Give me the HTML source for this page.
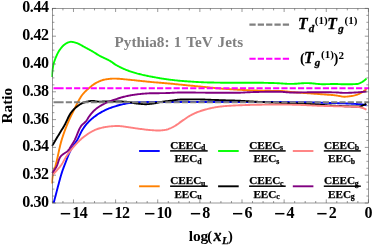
<!DOCTYPE html>
<html><head><meta charset="utf-8"><title>plot</title>
<style>html,body{margin:0;padding:0;background:#fff;}body{width:374px;height:247px;overflow:hidden;font-family:"Liberation Serif",serif;}</style></head>
<body>
<svg width="374" height="247" viewBox="0 0 374 247" style="display:block;will-change:transform">
<rect width="374" height="247" fill="#fff"/>
<clipPath id="c"><rect x="51.4" y="8.4" width="318.4" height="195.4"/></clipPath>
<g clip-path="url(#c)" fill="none" stroke-linejoin="round" stroke-linecap="butt">
<path d="M53.60,203.10 L53.84,202.20 L54.09,201.30 L54.33,200.40 L54.57,199.50 L54.81,198.59 L55.05,197.69 L55.29,196.79 L55.53,195.89 L55.77,194.99 L56.00,194.08 L56.23,193.18 L56.47,192.28 L56.70,191.37 L56.93,190.47 L57.16,189.57 L57.40,188.66 L57.63,187.76 L57.87,186.86 L58.11,185.96 L58.35,185.06 L58.60,184.15 L58.84,183.25 L59.08,182.35 L59.32,181.45 L59.56,180.55 L59.81,179.64 L60.05,178.74 L60.30,177.84 L60.55,176.94 L60.81,176.05 L61.07,175.15 L61.34,174.26 L61.61,173.37 L61.89,172.48 L62.17,171.59 L62.46,170.71 L62.77,169.83 L63.09,168.95 L63.42,168.07 L63.75,167.20 L64.08,166.33 L64.42,165.46 L64.76,164.59 L65.09,163.72 L65.43,162.84 L65.76,161.97 L66.09,161.09 L66.42,160.21 L66.75,159.33 L67.09,158.46 L67.43,157.58 L67.77,156.71 L68.12,155.84 L68.48,154.98 L68.84,154.12 L69.21,153.26 L69.59,152.41 L69.98,151.57 L70.38,150.73 L70.79,149.91 L71.21,149.09 L71.66,148.28 L72.14,147.49 L72.65,146.71 L73.17,145.94 L73.71,145.17 L74.25,144.40 L74.80,143.64 L75.34,142.87 L75.87,142.10 L76.39,141.32 L76.88,140.53 L77.36,139.73 L77.81,138.91 L78.24,138.08 L78.66,137.25 L79.07,136.40 L79.48,135.55 L79.88,134.71 L80.28,133.86 L80.69,133.02 L81.11,132.18 L81.54,131.36 L81.99,130.54 L82.46,129.75 L82.95,128.97 L83.46,128.20 L83.99,127.43 L84.54,126.67 L85.10,125.92 L85.68,125.17 L86.28,124.44 L86.88,123.72 L87.50,123.01 L88.13,122.32 L88.76,121.65 L89.41,120.99 L90.07,120.35 L90.75,119.72 L91.45,119.10 L92.16,118.49 L92.89,117.90 L93.63,117.31 L94.38,116.74 L95.13,116.18 L95.89,115.64 L96.66,115.10 L97.43,114.58 L98.20,114.07 L98.99,113.57 L99.78,113.08 L100.59,112.60 L101.40,112.13 L102.22,111.67 L103.04,111.23 L103.87,110.79 L104.71,110.38 L105.54,109.98 L106.39,109.59 L107.24,109.22 L108.10,108.85 L108.96,108.49 L109.83,108.15 L110.71,107.81 L111.59,107.49 L112.47,107.18 L113.35,106.88 L114.24,106.59 L115.12,106.31 L116.01,106.04 L116.91,105.77 L117.81,105.51 L118.71,105.25 L119.61,105.01 L120.52,104.78 L121.42,104.56 L122.33,104.35 L123.24,104.15 L124.15,103.95 L125.07,103.76 L125.98,103.58 L126.90,103.40 L127.82,103.24 L128.75,103.09 L129.67,102.95 L130.59,102.84 L131.52,102.75 L132.45,102.66 L133.37,102.58 L134.30,102.51 L135.24,102.44 L136.17,102.37 L137.10,102.32 L138.03,102.27 L138.97,102.23 L139.90,102.20 L140.83,102.18 L141.76,102.16 L142.70,102.14 L143.63,102.12 L144.56,102.10 L145.49,102.09 L146.43,102.07 L147.36,102.06 L148.29,102.05 L149.23,102.03 L150.16,102.02 L151.09,102.02 L152.03,102.01 L152.96,102.00 L153.89,102.00 L154.83,102.00 L155.76,102.00 L156.69,102.00 L157.63,102.00 L158.56,102.00 L159.49,102.00 L160.42,102.00 L161.36,102.00 L162.29,102.00 L163.22,102.00 L164.16,102.00 L165.09,102.00 L166.02,102.00 L166.96,102.00 L167.89,102.00 L168.82,102.00 L169.75,102.00 L170.69,102.00 L171.62,102.00 L172.55,102.00 L173.49,102.00 L174.42,102.00 L175.35,102.00 L176.29,102.00 L177.22,102.00 L178.15,102.00 L179.08,102.00 L180.02,102.00 L180.95,102.00 L181.88,102.00 L182.82,102.00 L183.75,102.00 L184.68,102.00 L185.62,102.00 L186.55,102.00 L187.48,102.00 L188.41,102.00 L189.35,102.00 L190.28,102.00 L191.21,102.00 L192.15,102.00 L193.08,102.00 L194.01,102.00 L194.95,102.00 L195.88,102.00 L196.81,102.00 L197.75,102.00 L198.68,102.00 L199.61,102.00 L200.54,102.00 L201.48,102.00 L202.41,102.00 L203.34,102.00 L204.28,102.00 L205.21,102.00 L206.14,102.00 L207.08,102.00 L208.01,102.00 L208.94,102.00 L209.87,102.00 L210.81,102.00 L211.74,102.00 L212.67,102.00 L213.61,102.00 L214.54,102.00 L215.47,102.00 L216.41,102.00 L217.34,102.00 L218.27,102.00 L219.20,102.00 L220.14,102.00 L221.07,102.00 L222.00,102.00 L222.94,102.00 L223.87,102.00 L224.80,102.00 L225.74,102.00 L226.67,102.00 L227.60,102.00 L228.53,102.00 L229.47,102.00 L230.40,102.00 L231.33,102.00 L232.27,102.00 L233.20,102.00 L234.13,102.00 L235.07,102.00 L236.00,102.00 L236.93,102.00 L237.86,102.00 L238.80,102.00 L239.73,102.00 L240.66,102.00 L241.60,102.00 L242.53,102.00 L243.46,102.00 L244.40,102.00 L245.33,102.00 L246.26,102.00 L247.19,102.00 L248.13,102.00 L249.06,102.00 L249.99,102.00 L250.93,102.00 L251.86,102.00 L252.79,102.00 L253.73,102.00 L254.66,102.00 L255.59,102.00 L256.52,102.00 L257.46,102.00 L258.39,102.00 L259.32,102.00 L260.26,102.01 L261.19,102.01 L262.12,102.01 L263.06,102.01 L263.99,102.01 L264.92,102.01 L265.85,102.01 L266.79,102.01 L267.72,102.02 L268.65,102.02 L269.59,102.02 L270.52,102.02 L271.45,102.02 L272.39,102.03 L273.32,102.03 L274.25,102.03 L275.19,102.03 L276.12,102.03 L277.05,102.04 L277.98,102.04 L278.92,102.04 L279.85,102.04 L280.78,102.05 L281.72,102.05 L282.65,102.05 L283.58,102.06 L284.52,102.06 L285.45,102.06 L286.38,102.07 L287.31,102.07 L288.25,102.07 L289.18,102.08 L290.11,102.08 L291.05,102.08 L291.98,102.09 L292.91,102.09 L293.84,102.10 L294.78,102.10 L295.71,102.10 L296.64,102.11 L297.58,102.12 L298.51,102.12 L299.44,102.13 L300.38,102.14 L301.31,102.16 L302.24,102.17 L303.17,102.18 L304.11,102.20 L305.04,102.21 L305.97,102.23 L306.91,102.24 L307.84,102.26 L308.77,102.28 L309.70,102.29 L310.64,102.31 L311.57,102.34 L312.50,102.36 L313.44,102.39 L314.37,102.42 L315.30,102.46 L316.23,102.49 L317.16,102.52 L318.10,102.56 L319.03,102.60 L319.96,102.63 L320.89,102.66 L321.83,102.69 L322.76,102.72 L323.69,102.75 L324.62,102.78 L325.56,102.81 L326.49,102.84 L327.42,102.87 L328.36,102.90 L329.29,102.93 L330.22,102.96 L331.15,102.98 L332.09,103.01 L333.02,103.04 L333.95,103.07 L334.88,103.10 L335.82,103.12 L336.75,103.15 L337.68,103.18 L338.61,103.20 L339.55,103.23 L340.48,103.25 L341.41,103.28 L342.34,103.31 L343.28,103.34 L344.21,103.37 L345.14,103.41 L346.07,103.44 L347.01,103.48 L347.94,103.52 L348.87,103.57 L349.80,103.61 L350.73,103.66 L351.67,103.71 L352.60,103.76 L353.53,103.81 L354.46,103.87 L355.39,103.92 L356.32,103.98 L357.26,104.03 L358.19,104.09 L359.12,104.15 L360.05,104.22 L360.98,104.30 L361.91,104.39 L362.83,104.50 L363.75,104.65 L364.67,104.81 L365.59,105.00 L366.50,105.20" stroke="#0000ff" stroke-width="1.9"/>
<path d="M52.00,183.60 L52.02,182.62 L52.07,181.64 L52.14,180.67 L52.22,179.70 L52.33,178.73 L52.45,177.77 L52.58,176.81 L52.73,175.86 L52.88,174.91 L53.04,173.96 L53.20,173.01 L53.39,172.08 L53.63,171.15 L53.92,170.22 L54.24,169.30 L54.57,168.38 L54.90,167.47 L55.22,166.55 L55.52,165.62 L55.78,164.69 L56.03,163.76 L56.28,162.82 L56.51,161.88 L56.74,160.94 L56.96,160.00 L57.18,159.05 L57.39,158.10 L57.60,157.16 L57.80,156.21 L58.01,155.26 L58.21,154.31 L58.41,153.36 L58.62,152.41 L58.82,151.46 L59.02,150.51 L59.23,149.57 L59.44,148.62 L59.66,147.68 L59.87,146.73 L60.10,145.79 L60.33,144.85 L60.56,143.91 L60.81,142.98 L61.06,142.05 L61.32,141.12 L61.59,140.19 L61.87,139.27 L62.16,138.34 L62.45,137.42 L62.75,136.50 L63.06,135.58 L63.37,134.66 L63.69,133.74 L64.01,132.83 L64.34,131.92 L64.68,131.00 L65.02,130.09 L65.36,129.19 L65.71,128.28 L66.06,127.38 L66.41,126.48 L66.77,125.58 L67.13,124.68 L67.49,123.79 L67.87,122.90 L68.25,122.01 L68.63,121.12 L69.03,120.23 L69.42,119.35 L69.83,118.47 L70.24,117.59 L70.65,116.71 L71.07,115.83 L71.49,114.96 L71.91,114.09 L72.34,113.22 L72.77,112.35 L73.20,111.48 L73.64,110.62 L74.07,109.75 L74.51,108.89 L74.94,108.02 L75.37,107.14 L75.81,106.27 L76.24,105.39 L76.67,104.51 L77.11,103.63 L77.56,102.75 L78.00,101.88 L78.46,101.02 L78.93,100.16 L79.40,99.31 L79.89,98.48 L80.39,97.65 L80.90,96.84 L81.43,96.05 L81.97,95.28 L82.54,94.52 L83.13,93.78 L83.76,93.06 L84.42,92.35 L85.10,91.65 L85.80,90.96 L86.52,90.29 L87.25,89.63 L87.98,88.99 L88.71,88.36 L89.45,87.74 L90.19,87.11 L90.95,86.49 L91.71,85.87 L92.49,85.27 L93.28,84.69 L94.08,84.14 L94.89,83.61 L95.71,83.12 L96.55,82.67 L97.40,82.24 L98.28,81.82 L99.16,81.40 L100.07,81.00 L100.98,80.63 L101.90,80.30 L102.83,80.01 L103.76,79.77 L104.70,79.58 L105.64,79.43 L106.59,79.28 L107.54,79.14 L108.51,79.01 L109.48,78.90 L110.45,78.80 L111.42,78.71 L112.40,78.65 L113.37,78.61 L114.34,78.60 L115.30,78.61 L116.27,78.64 L117.23,78.69 L118.20,78.74 L119.16,78.81 L120.13,78.89 L121.10,78.98 L122.07,79.07 L123.03,79.16 L124.00,79.25 L124.96,79.34 L125.93,79.42 L126.89,79.50 L127.86,79.59 L128.82,79.68 L129.79,79.77 L130.75,79.87 L131.71,79.97 L132.68,80.07 L133.64,80.17 L134.60,80.28 L135.57,80.38 L136.53,80.48 L137.49,80.58 L138.46,80.69 L139.42,80.79 L140.38,80.89 L141.34,80.99 L142.31,81.09 L143.27,81.20 L144.23,81.30 L145.20,81.41 L146.16,81.51 L147.12,81.61 L148.09,81.71 L149.05,81.81 L150.01,81.90 L150.98,81.99 L151.94,82.08 L152.91,82.17 L153.87,82.25 L154.84,82.33 L155.80,82.41 L156.77,82.49 L157.73,82.57 L158.70,82.65 L159.66,82.73 L160.63,82.81 L161.59,82.89 L162.56,82.96 L163.52,83.04 L164.49,83.12 L165.45,83.20 L166.42,83.28 L167.38,83.37 L168.35,83.45 L169.31,83.54 L170.28,83.63 L171.24,83.72 L172.21,83.81 L173.17,83.90 L174.13,84.00 L175.10,84.09 L176.06,84.19 L177.03,84.29 L177.99,84.39 L178.95,84.49 L179.92,84.58 L180.88,84.68 L181.84,84.78 L182.81,84.88 L183.77,84.98 L184.73,85.07 L185.70,85.17 L186.66,85.26 L187.63,85.36 L188.59,85.45 L189.55,85.55 L190.52,85.64 L191.48,85.73 L192.45,85.82 L193.41,85.92 L194.37,86.01 L195.34,86.10 L196.30,86.19 L197.27,86.29 L198.23,86.38 L199.19,86.47 L200.16,86.56 L201.12,86.66 L202.09,86.75 L203.05,86.84 L204.01,86.93 L204.98,87.03 L205.94,87.12 L206.91,87.21 L207.87,87.31 L208.83,87.40 L209.80,87.50 L210.76,87.60 L211.72,87.71 L212.69,87.81 L213.65,87.92 L214.61,88.02 L215.58,88.12 L216.54,88.22 L217.50,88.31 L218.47,88.40 L219.43,88.48 L220.40,88.55 L221.36,88.63 L222.33,88.70 L223.29,88.78 L224.26,88.85 L225.23,88.91 L226.19,88.98 L227.16,89.05 L228.13,89.11 L229.09,89.17 L230.06,89.23 L231.03,89.29 L231.99,89.35 L232.96,89.41 L233.93,89.47 L234.89,89.52 L235.86,89.58 L236.83,89.64 L237.79,89.69 L238.76,89.75 L239.73,89.80 L240.70,89.85 L241.66,89.91 L242.63,89.96 L243.60,90.01 L244.56,90.06 L245.53,90.11 L246.50,90.16 L247.47,90.20 L248.43,90.25 L249.40,90.29 L250.37,90.33 L251.34,90.36 L252.31,90.40 L253.27,90.43 L254.24,90.46 L255.21,90.49 L256.18,90.52 L257.15,90.55 L258.11,90.58 L259.08,90.60 L260.05,90.63 L261.02,90.65 L261.99,90.68 L262.95,90.70 L263.92,90.72 L264.89,90.74 L265.86,90.76 L266.83,90.77 L267.80,90.79 L268.76,90.80 L269.73,90.81 L270.70,90.82 L271.67,90.83 L272.64,90.84 L273.61,90.84 L274.58,90.85 L275.55,90.85 L276.52,90.86 L277.48,90.87 L278.45,90.88 L279.42,90.89 L280.39,90.91 L281.35,90.95 L282.32,91.02 L283.28,91.10 L284.24,91.20 L285.21,91.32 L286.17,91.44 L287.13,91.56 L288.09,91.68 L289.06,91.80 L290.02,91.91 L290.99,92.00 L291.95,92.08 L292.92,92.16 L293.88,92.23 L294.85,92.31 L295.81,92.38 L296.78,92.45 L297.74,92.52 L298.71,92.59 L299.68,92.66 L300.64,92.72 L301.61,92.79 L302.58,92.86 L303.54,92.93 L304.51,92.99 L305.47,93.06 L306.44,93.13 L307.41,93.20 L308.37,93.27 L309.34,93.34 L310.30,93.41 L311.27,93.48 L312.24,93.55 L313.20,93.63 L314.17,93.70 L315.13,93.77 L316.10,93.84 L317.06,93.91 L318.03,93.98 L319.00,94.05 L319.96,94.12 L320.93,94.20 L321.89,94.27 L322.86,94.34 L323.83,94.42 L324.79,94.49 L325.76,94.56 L326.72,94.63 L327.69,94.70 L328.66,94.77 L329.62,94.84 L330.59,94.91 L331.56,94.99 L332.52,95.07 L333.48,95.15 L334.45,95.24 L335.41,95.35 L336.37,95.48 L337.33,95.64 L338.29,95.82 L339.25,96.00 L340.20,96.18 L341.16,96.35 L342.12,96.50 L343.08,96.61 L344.04,96.68 L345.00,96.70 L345.96,96.67 L346.93,96.62 L347.90,96.53 L348.87,96.43 L349.83,96.31 L350.80,96.18 L351.75,96.04 L352.70,95.88 L353.64,95.68 L354.59,95.44 L355.52,95.16 L356.45,94.85 L357.37,94.53 L358.27,94.20 L359.16,93.82 L360.03,93.40 L360.90,92.94 L361.74,92.46 L362.55,91.96 L363.36,91.43 L364.14,90.86 L364.91,90.27 L365.67,89.65 L366.40,89.00" stroke="#ff8000" stroke-width="1.9"/>
<path d="M52.00,77.00 L52.01,76.11 L52.04,75.23 L52.09,74.35 L52.15,73.48 L52.24,72.60 L52.33,71.73 L52.43,70.87 L52.55,70.00 L52.67,69.14 L52.80,68.28 L52.94,67.42 L53.07,66.57 L53.21,65.72 L53.37,64.87 L53.57,64.02 L53.79,63.17 L54.03,62.33 L54.30,61.49 L54.59,60.66 L54.88,59.83 L55.19,59.01 L55.50,58.20 L55.82,57.39 L56.15,56.59 L56.50,55.78 L56.87,54.98 L57.25,54.18 L57.65,53.39 L58.07,52.60 L58.51,51.83 L58.96,51.08 L59.42,50.34 L59.90,49.63 L60.40,48.94 L60.91,48.26 L61.46,47.57 L62.05,46.89 L62.66,46.21 L63.29,45.57 L63.96,44.96 L64.64,44.40 L65.34,43.90 L66.05,43.48 L66.80,43.10 L67.60,42.73 L68.43,42.38 L69.29,42.09 L70.16,41.89 L71.01,41.80 L71.86,41.84 L72.71,41.96 L73.57,42.15 L74.43,42.38 L75.29,42.65 L76.13,42.92 L76.95,43.18 L77.75,43.48 L78.55,43.81 L79.34,44.18 L80.11,44.58 L80.89,45.00 L81.66,45.43 L82.42,45.87 L83.19,46.31 L83.96,46.74 L84.73,47.16 L85.50,47.57 L86.27,47.98 L87.04,48.39 L87.81,48.81 L88.57,49.22 L89.34,49.64 L90.10,50.07 L90.86,50.49 L91.62,50.93 L92.38,51.36 L93.13,51.80 L93.87,52.26 L94.62,52.72 L95.36,53.18 L96.10,53.65 L96.84,54.11 L97.58,54.57 L98.33,55.02 L99.08,55.47 L99.83,55.90 L100.60,56.31 L101.37,56.71 L102.16,57.10 L102.95,57.47 L103.74,57.84 L104.54,58.21 L105.34,58.57 L106.13,58.93 L106.92,59.31 L107.71,59.68 L108.49,60.08 L109.26,60.48 L110.01,60.91 L110.75,61.36 L111.48,61.84 L112.19,62.35 L112.90,62.86 L113.61,63.38 L114.33,63.89 L115.05,64.38 L115.79,64.83 L116.54,65.27 L117.30,65.69 L118.06,66.11 L118.84,66.52 L119.61,66.92 L120.40,67.32 L121.18,67.70 L121.98,68.08 L122.77,68.44 L123.57,68.80 L124.37,69.15 L125.17,69.49 L125.98,69.81 L126.79,70.13 L127.60,70.44 L128.42,70.74 L129.24,71.04 L130.07,71.33 L130.90,71.61 L131.73,71.88 L132.56,72.15 L133.40,72.41 L134.23,72.66 L135.07,72.90 L135.91,73.14 L136.75,73.38 L137.59,73.60 L138.43,73.82 L139.28,74.04 L140.13,74.25 L140.98,74.45 L141.83,74.66 L142.68,74.85 L143.53,75.05 L144.38,75.24 L145.23,75.43 L146.09,75.62 L146.94,75.80 L147.79,75.98 L148.65,76.15 L149.50,76.33 L150.36,76.49 L151.22,76.66 L152.08,76.81 L152.93,76.97 L153.79,77.13 L154.65,77.28 L155.51,77.44 L156.37,77.59 L157.23,77.74 L158.09,77.89 L158.95,78.04 L159.81,78.19 L160.67,78.33 L161.54,78.47 L162.40,78.61 L163.26,78.75 L164.12,78.88 L164.99,79.01 L165.85,79.14 L166.71,79.27 L167.58,79.39 L168.44,79.50 L169.31,79.61 L170.17,79.72 L171.04,79.83 L171.90,79.93 L172.77,80.03 L173.64,80.13 L174.51,80.23 L175.37,80.32 L176.24,80.42 L177.11,80.51 L177.98,80.60 L178.85,80.68 L179.72,80.76 L180.59,80.84 L181.46,80.92 L182.33,81.00 L183.20,81.07 L184.07,81.13 L184.94,81.20 L185.81,81.26 L186.68,81.32 L187.55,81.38 L188.42,81.44 L189.29,81.50 L190.16,81.56 L191.03,81.61 L191.90,81.67 L192.77,81.73 L193.64,81.78 L194.52,81.84 L195.39,81.89 L196.26,81.94 L197.13,81.99 L198.00,82.04 L198.87,82.08 L199.75,82.13 L200.62,82.17 L201.49,82.21 L202.36,82.25 L203.23,82.29 L204.11,82.33 L204.98,82.36 L205.85,82.39 L206.72,82.42 L207.60,82.44 L208.47,82.47 L209.34,82.49 L210.21,82.50 L211.08,82.52 L211.96,82.54 L212.83,82.55 L213.70,82.57 L214.57,82.58 L215.45,82.60 L216.32,82.61 L217.19,82.63 L218.06,82.64 L218.94,82.65 L219.81,82.67 L220.68,82.68 L221.56,82.69 L222.43,82.70 L223.30,82.72 L224.17,82.73 L225.05,82.74 L225.92,82.75 L226.79,82.75 L227.67,82.76 L228.54,82.77 L229.41,82.78 L230.28,82.78 L231.16,82.79 L232.03,82.79 L232.90,82.79 L233.78,82.80 L234.65,82.80 L235.52,82.80 L236.39,82.80 L237.27,82.80 L238.14,82.80 L239.01,82.80 L239.88,82.80 L240.76,82.80 L241.63,82.80 L242.50,82.80 L243.38,82.80 L244.25,82.80 L245.12,82.80 L245.99,82.80 L246.87,82.80 L247.74,82.80 L248.61,82.80 L249.49,82.80 L250.36,82.80 L251.23,82.80 L252.10,82.80 L252.98,82.80 L253.85,82.80 L254.72,82.80 L255.59,82.80 L256.47,82.80 L257.34,82.80 L258.21,82.80 L259.09,82.80 L259.96,82.80 L260.83,82.80 L261.70,82.81 L262.58,82.81 L263.45,82.82 L264.32,82.84 L265.19,82.85 L266.07,82.87 L266.94,82.88 L267.81,82.90 L268.69,82.93 L269.56,82.95 L270.43,82.97 L271.30,82.99 L272.18,83.02 L273.05,83.04 L273.92,83.07 L274.79,83.09 L275.66,83.12 L276.54,83.16 L277.41,83.20 L278.28,83.25 L279.15,83.30 L280.02,83.35 L280.90,83.41 L281.77,83.47 L282.64,83.53 L283.51,83.59 L284.38,83.65 L285.25,83.70 L286.12,83.75 L287.00,83.80 L287.87,83.83 L288.74,83.86 L289.61,83.89 L290.48,83.90 L291.35,83.90 L292.23,83.89 L293.10,83.86 L293.97,83.83 L294.84,83.78 L295.71,83.73 L296.59,83.68 L297.46,83.61 L298.33,83.55 L299.20,83.49 L300.07,83.42 L300.94,83.36 L301.82,83.30 L302.69,83.24 L303.56,83.20 L304.43,83.16 L305.30,83.13 L306.17,83.11 L307.04,83.10 L307.92,83.11 L308.79,83.14 L309.66,83.18 L310.53,83.24 L311.40,83.30 L312.27,83.38 L313.14,83.46 L314.01,83.55 L314.88,83.64 L315.75,83.73 L316.62,83.82 L317.49,83.90 L318.36,83.98 L319.23,84.05 L320.10,84.11 L320.97,84.15 L321.85,84.18 L322.72,84.20 L323.59,84.20 L324.46,84.19 L325.33,84.18 L326.21,84.16 L327.08,84.15 L327.95,84.13 L328.82,84.10 L329.70,84.08 L330.57,84.06 L331.44,84.04 L332.32,84.03 L333.19,84.01 L334.06,84.00 L334.93,84.00 L335.81,84.01 L336.68,84.02 L337.55,84.05 L338.42,84.08 L339.30,84.12 L340.17,84.16 L341.04,84.20 L341.91,84.23 L342.79,84.26 L343.66,84.29 L344.53,84.30 L345.40,84.30 L346.28,84.30 L347.16,84.29 L348.04,84.28 L348.92,84.27 L349.81,84.26 L350.69,84.24 L351.57,84.22 L352.45,84.19 L353.32,84.16 L354.19,84.13 L355.05,84.10 L355.91,84.06 L356.75,84.01 L357.59,83.93 L358.44,83.71 L359.27,83.40 L360.09,83.02 L360.88,82.62 L361.65,82.22 L362.39,81.81 L363.12,81.35 L363.83,80.85 L364.53,80.32 L365.21,79.74 L365.86,79.14 L366.50,78.50" stroke="#00ff00" stroke-width="1.9"/>
<path d="M52.00,146.10 L52.43,145.37 L52.86,144.64 L53.30,143.91 L53.73,143.18 L54.16,142.45 L54.60,141.72 L55.03,140.99 L55.46,140.26 L55.90,139.53 L56.33,138.80 L56.77,138.07 L57.20,137.34 L57.64,136.61 L58.07,135.88 L58.51,135.15 L58.95,134.43 L59.39,133.70 L59.83,132.98 L60.28,132.25 L60.72,131.53 L61.17,130.80 L61.61,130.08 L62.05,129.35 L62.49,128.63 L62.92,127.90 L63.35,127.17 L63.78,126.43 L64.21,125.70 L64.62,124.96 L65.03,124.21 L65.42,123.45 L65.80,122.69 L66.18,121.91 L66.55,121.13 L66.91,120.35 L67.27,119.57 L67.64,118.79 L68.01,118.01 L68.38,117.24 L68.77,116.48 L69.16,115.73 L69.57,115.00 L69.99,114.28 L70.43,113.57 L70.89,112.89 L71.38,112.23 L71.89,111.57 L72.43,110.92 L73.00,110.27 L73.59,109.64 L74.20,109.02 L74.82,108.42 L75.46,107.84 L76.11,107.28 L76.76,106.74 L77.43,106.23 L78.10,105.74 L78.79,105.25 L79.50,104.76 L80.24,104.29 L80.98,103.85 L81.74,103.44 L82.51,103.07 L83.29,102.74 L84.07,102.48 L84.86,102.24 L85.67,102.00 L86.50,101.78 L87.33,101.56 L88.17,101.37 L89.02,101.20 L89.87,101.07 L90.72,100.97 L91.56,100.91 L92.41,100.90 L93.25,100.96 L94.09,101.06 L94.93,101.18 L95.78,101.32 L96.62,101.45 L97.47,101.54 L98.32,101.60 L99.16,101.60 L100.01,101.60 L100.86,101.59 L101.71,101.58 L102.55,101.57 L103.40,101.56 L104.25,101.55 L105.10,101.54 L105.95,101.53 L106.80,101.52 L107.65,101.51 L108.50,101.50 L109.35,101.50 L110.20,101.50 L111.05,101.50 L111.90,101.50 L112.75,101.50 L113.60,101.50 L114.45,101.50 L115.30,101.50 L116.14,101.50 L116.99,101.50 L117.84,101.50 L118.69,101.50 L119.54,101.50 L120.39,101.50 L121.24,101.52 L122.09,101.55 L122.94,101.58 L123.79,101.62 L124.64,101.67 L125.49,101.73 L126.33,101.79 L127.18,101.85 L128.02,101.92 L128.86,102.02 L129.69,102.15 L130.53,102.31 L131.36,102.49 L132.19,102.68 L133.03,102.87 L133.86,103.04 L134.69,103.21 L135.53,103.34 L136.37,103.44 L137.21,103.54 L138.06,103.64 L138.90,103.74 L139.75,103.83 L140.60,103.91 L141.44,103.99 L142.29,104.06 L143.14,104.12 L143.99,104.16 L144.83,104.19 L145.68,104.20 L146.53,104.19 L147.37,104.15 L148.22,104.09 L149.07,104.01 L149.91,103.91 L150.76,103.81 L151.60,103.70 L152.45,103.58 L153.29,103.47 L154.13,103.35 L154.96,103.22 L155.80,103.06 L156.63,102.89 L157.46,102.71 L158.29,102.52 L159.12,102.34 L159.95,102.16 L160.78,101.99 L161.62,101.84 L162.46,101.72 L163.30,101.60 L164.14,101.49 L164.98,101.38 L165.83,101.28 L166.67,101.18 L167.51,101.09 L168.36,100.99 L169.20,100.89 L170.04,100.79 L170.89,100.69 L171.73,100.57 L172.57,100.45 L173.42,100.32 L174.26,100.20 L175.10,100.07 L175.94,99.95 L176.79,99.84 L177.63,99.74 L178.47,99.65 L179.32,99.58 L180.16,99.53 L181.01,99.50 L181.85,99.49 L182.70,99.48 L183.55,99.47 L184.40,99.46 L185.24,99.46 L186.09,99.45 L186.94,99.44 L187.79,99.44 L188.64,99.43 L189.49,99.42 L190.34,99.42 L191.19,99.41 L192.04,99.41 L192.89,99.41 L193.74,99.41 L194.59,99.40 L195.44,99.40 L196.29,99.40 L197.14,99.40 L197.99,99.40 L198.84,99.41 L199.68,99.42 L200.53,99.43 L201.38,99.45 L202.23,99.47 L203.08,99.50 L203.93,99.53 L204.78,99.56 L205.63,99.59 L206.47,99.62 L207.32,99.66 L208.17,99.69 L209.02,99.73 L209.87,99.76 L210.72,99.79 L211.57,99.83 L212.41,99.86 L213.26,99.89 L214.11,99.92 L214.96,99.95 L215.81,99.98 L216.66,100.01 L217.50,100.04 L218.35,100.07 L219.20,100.10 L220.05,100.13 L220.90,100.16 L221.75,100.19 L222.60,100.22 L223.44,100.25 L224.29,100.28 L225.14,100.30 L225.99,100.33 L226.84,100.35 L227.69,100.37 L228.54,100.40 L229.39,100.42 L230.23,100.44 L231.08,100.46 L231.93,100.48 L232.78,100.50 L233.63,100.52 L234.48,100.55 L235.33,100.58 L236.17,100.61 L237.02,100.64 L237.87,100.68 L238.72,100.72 L239.57,100.76 L240.41,100.80 L241.26,100.85 L242.11,100.90 L242.96,100.95 L243.80,101.00 L244.65,101.05 L245.50,101.10 L246.35,101.16 L247.20,101.21 L248.04,101.26 L248.89,101.32 L249.74,101.37 L250.59,101.42 L251.43,101.47 L252.28,101.52 L253.13,101.56 L253.98,101.61 L254.82,101.66 L255.67,101.71 L256.52,101.75 L257.37,101.80 L258.21,101.85 L259.06,101.90 L259.91,101.94 L260.76,101.99 L261.61,102.04 L262.45,102.08 L263.30,102.13 L264.15,102.17 L265.00,102.22 L265.84,102.26 L266.69,102.31 L267.54,102.35 L268.39,102.39 L269.24,102.43 L270.08,102.47 L270.93,102.51 L271.78,102.55 L272.63,102.59 L273.48,102.63 L274.33,102.66 L275.17,102.70 L276.02,102.74 L276.87,102.77 L277.72,102.81 L278.57,102.84 L279.42,102.88 L280.26,102.91 L281.11,102.94 L281.96,102.97 L282.81,103.01 L283.66,103.04 L284.51,103.07 L285.35,103.09 L286.20,103.12 L287.05,103.15 L287.90,103.18 L288.75,103.21 L289.60,103.23 L290.45,103.26 L291.29,103.29 L292.14,103.32 L292.99,103.35 L293.84,103.37 L294.69,103.40 L295.54,103.43 L296.39,103.46 L297.23,103.49 L298.08,103.53 L298.93,103.56 L299.78,103.59 L300.63,103.63 L301.48,103.66 L302.32,103.69 L303.17,103.73 L304.02,103.76 L304.87,103.80 L305.72,103.84 L306.57,103.87 L307.41,103.91 L308.26,103.95 L309.11,103.99 L309.96,104.03 L310.81,104.07 L311.65,104.12 L312.50,104.16 L313.35,104.21 L314.20,104.25 L315.05,104.30 L315.89,104.36 L316.74,104.41 L317.59,104.48 L318.43,104.54 L319.28,104.61 L320.12,104.69 L320.97,104.76 L321.82,104.84 L322.66,104.91 L323.51,104.99 L324.35,105.07 L325.20,105.14 L326.05,105.21 L326.89,105.28 L327.74,105.35 L328.59,105.41 L329.43,105.47 L330.28,105.52 L331.13,105.57 L331.97,105.61 L332.82,105.66 L333.67,105.70 L334.52,105.75 L335.37,105.79 L336.21,105.83 L337.06,105.87 L337.91,105.91 L338.76,105.95 L339.61,105.99 L340.45,106.02 L341.30,106.06 L342.15,106.09 L343.00,106.13 L343.85,106.16 L344.70,106.19 L345.55,106.22 L346.39,106.25 L347.24,106.29 L348.09,106.32 L348.94,106.36 L349.79,106.39 L350.64,106.42 L351.49,106.44 L352.33,106.47 L353.18,106.48 L354.03,106.50 L354.88,106.50 L355.73,106.50 L356.59,106.48 L357.45,106.46 L358.30,106.43 L359.15,106.38 L359.99,106.33 L360.80,106.24 L361.60,105.96 L362.39,105.59 L363.17,105.23 L363.94,104.88 L364.70,104.50 L365.45,104.11 L366.20,103.70" stroke="#000000" stroke-width="1.9"/>
<path d="M52.00,175.50 L52.60,174.89 L53.20,174.27 L53.79,173.65 L54.38,173.03 L54.96,172.40 L55.54,171.77 L56.11,171.13 L56.68,170.50 L57.25,169.86 L57.83,169.22 L58.40,168.58 L58.97,167.93 L59.53,167.28 L60.08,166.62 L60.60,165.95 L61.11,165.26 L61.60,164.57 L62.06,163.85 L62.50,163.12 L62.92,162.38 L63.34,161.63 L63.75,160.87 L64.16,160.11 L64.57,159.35 L64.99,158.60 L65.42,157.86 L65.86,157.13 L66.32,156.41 L66.80,155.70 L67.28,155.00 L67.77,154.29 L68.27,153.59 L68.77,152.90 L69.28,152.21 L69.80,151.52 L70.32,150.83 L70.85,150.15 L71.38,149.48 L71.92,148.81 L72.46,148.15 L73.01,147.49 L73.57,146.84 L74.13,146.20 L74.69,145.56 L75.26,144.93 L75.84,144.29 L76.43,143.67 L77.02,143.04 L77.62,142.42 L78.23,141.81 L78.84,141.21 L79.46,140.61 L80.09,140.03 L80.72,139.45 L81.36,138.88 L82.01,138.33 L82.66,137.79 L83.32,137.25 L83.99,136.71 L84.67,136.19 L85.36,135.67 L86.06,135.16 L86.76,134.66 L87.47,134.17 L88.19,133.70 L88.91,133.24 L89.64,132.79 L90.38,132.37 L91.12,131.96 L91.87,131.54 L92.63,131.13 L93.40,130.73 L94.18,130.35 L94.96,129.98 L95.75,129.62 L96.54,129.30 L97.34,129.00 L98.15,128.73 L98.95,128.50 L99.77,128.28 L100.59,128.06 L101.42,127.86 L102.26,127.66 L103.10,127.46 L103.94,127.28 L104.79,127.12 L105.64,126.96 L106.49,126.82 L107.34,126.69 L108.20,126.58 L109.05,126.48 L109.90,126.41 L110.75,126.34 L111.60,126.28 L112.46,126.22 L113.31,126.17 L114.17,126.12 L115.03,126.07 L115.89,126.04 L116.74,126.02 L117.60,126.00 L118.45,126.00 L119.31,126.03 L120.16,126.10 L121.01,126.18 L121.86,126.28 L122.71,126.40 L123.56,126.53 L124.41,126.65 L125.26,126.77 L126.11,126.89 L126.96,127.00 L127.81,127.11 L128.66,127.23 L129.51,127.35 L130.35,127.48 L131.20,127.61 L132.05,127.73 L132.90,127.86 L133.74,127.99 L134.59,128.11 L135.44,128.24 L136.29,128.35 L137.13,128.47 L137.98,128.59 L138.83,128.71 L139.68,128.83 L140.53,128.94 L141.38,129.06 L142.23,129.17 L143.08,129.28 L143.93,129.39 L144.78,129.49 L145.63,129.59 L146.48,129.69 L147.33,129.79 L148.18,129.88 L149.03,129.97 L149.89,130.04 L150.74,130.11 L151.59,130.17 L152.45,130.24 L153.30,130.30 L154.16,130.36 L155.02,130.41 L155.87,130.45 L156.73,130.48 L157.58,130.50 L158.44,130.50 L159.29,130.48 L160.15,130.44 L161.01,130.37 L161.87,130.30 L162.73,130.20 L163.58,130.09 L164.43,129.98 L165.28,129.85 L166.11,129.71 L166.94,129.54 L167.75,129.29 L168.56,128.99 L169.37,128.66 L170.16,128.34 L170.95,128.00 L171.73,127.64 L172.50,127.26 L173.26,126.87 L174.01,126.46 L174.75,126.04 L175.48,125.59 L176.19,125.13 L176.90,124.65 L177.60,124.16 L178.30,123.65 L178.99,123.15 L179.69,122.63 L180.38,122.13 L181.08,121.62 L181.78,121.13 L182.48,120.64 L183.19,120.16 L183.90,119.67 L184.61,119.18 L185.31,118.69 L186.02,118.20 L186.73,117.72 L187.45,117.25 L188.16,116.78 L188.89,116.33 L189.62,115.89 L190.36,115.47 L191.11,115.07 L191.87,114.68 L192.64,114.29 L193.41,113.91 L194.18,113.54 L194.97,113.18 L195.75,112.83 L196.55,112.50 L197.34,112.18 L198.14,111.87 L198.94,111.58 L199.74,111.30 L200.55,111.02 L201.36,110.76 L202.18,110.50 L203.00,110.24 L203.82,110.00 L204.65,109.76 L205.48,109.53 L206.31,109.30 L207.14,109.09 L207.97,108.88 L208.80,108.68 L209.64,108.48 L210.47,108.29 L211.31,108.11 L212.14,107.94 L212.98,107.76 L213.83,107.60 L214.67,107.44 L215.51,107.29 L216.36,107.15 L217.21,107.02 L218.05,106.89 L218.90,106.78 L219.75,106.66 L220.60,106.55 L221.45,106.45 L222.30,106.35 L223.15,106.25 L224.01,106.17 L224.86,106.09 L225.71,106.02 L226.56,105.96 L227.42,105.90 L228.27,105.84 L229.13,105.79 L229.98,105.74 L230.84,105.69 L231.69,105.64 L232.55,105.59 L233.40,105.55 L234.26,105.50 L235.11,105.46 L235.97,105.42 L236.83,105.38 L237.68,105.35 L238.54,105.31 L239.39,105.28 L240.25,105.24 L241.11,105.21 L241.96,105.18 L242.82,105.15 L243.68,105.12 L244.53,105.09 L245.39,105.06 L246.24,105.04 L247.10,105.01 L247.96,104.99 L248.81,104.96 L249.67,104.94 L250.52,104.91 L251.38,104.89 L252.24,104.87 L253.09,104.85 L253.95,104.83 L254.81,104.81 L255.66,104.79 L256.52,104.77 L257.37,104.75 L258.23,104.74 L259.09,104.72 L259.94,104.71 L260.80,104.70 L261.66,104.68 L262.51,104.67 L263.37,104.66 L264.23,104.65 L265.08,104.63 L265.94,104.62 L266.80,104.61 L267.65,104.60 L268.51,104.59 L269.37,104.57 L270.22,104.56 L271.08,104.55 L271.93,104.55 L272.79,104.54 L273.65,104.53 L274.50,104.52 L275.36,104.52 L276.22,104.51 L277.07,104.51 L277.93,104.50 L278.79,104.50 L279.64,104.50 L280.50,104.50 L281.36,104.50 L282.21,104.51 L283.07,104.51 L283.93,104.52 L284.78,104.53 L285.64,104.55 L286.49,104.56 L287.35,104.58 L288.21,104.59 L289.06,104.61 L289.92,104.63 L290.78,104.65 L291.63,104.67 L292.49,104.69 L293.35,104.71 L294.20,104.74 L295.06,104.76 L295.91,104.79 L296.77,104.81 L297.63,104.83 L298.48,104.86 L299.34,104.88 L300.20,104.91 L301.05,104.93 L301.91,104.96 L302.76,104.99 L303.62,105.03 L304.47,105.06 L305.33,105.10 L306.19,105.14 L307.04,105.18 L307.90,105.22 L308.75,105.27 L309.61,105.31 L310.46,105.36 L311.32,105.40 L312.17,105.45 L313.03,105.49 L313.89,105.53 L314.74,105.57 L315.60,105.62 L316.45,105.66 L317.31,105.69 L318.16,105.73 L319.02,105.76 L319.87,105.80 L320.73,105.83 L321.59,105.85 L322.44,105.88 L323.30,105.91 L324.16,105.93 L325.01,105.96 L325.87,105.98 L326.72,106.01 L327.58,106.03 L328.44,106.05 L329.29,106.07 L330.15,106.10 L331.00,106.12 L331.86,106.14 L332.72,106.16 L333.57,106.18 L334.43,106.20 L335.29,106.23 L336.14,106.25 L337.00,106.27 L337.85,106.29 L338.71,106.31 L339.57,106.34 L340.42,106.36 L341.28,106.39 L342.14,106.41 L342.99,106.44 L343.85,106.46 L344.70,106.49 L345.56,106.52 L346.42,106.54 L347.28,106.57 L348.13,106.59 L348.99,106.61 L349.85,106.64 L350.71,106.66 L351.57,106.69 L352.43,106.71 L353.28,106.75 L354.14,106.78 L354.99,106.82 L355.85,106.86 L356.70,106.91 L357.55,106.97 L358.39,107.04 L359.24,107.16 L360.09,107.32 L360.93,107.52 L361.76,107.73 L362.57,107.97 L363.37,108.24 L364.17,108.56 L364.96,108.91 L365.73,109.29 L366.50,109.70" stroke="#ff8080" stroke-width="1.9"/>
<path d="M52.00,173.00 L52.58,172.31 L53.14,171.62 L53.69,170.91 L54.23,170.20 L54.74,169.48 L55.23,168.75 L55.70,168.00 L56.14,167.25 L56.56,166.49 L56.93,165.70 L57.27,164.87 L57.58,164.03 L57.87,163.16 L58.15,162.29 L58.42,161.42 L58.70,160.55 L59.00,159.70 L59.31,158.88 L59.66,158.09 L60.05,157.33 L60.48,156.63 L61.01,155.98 L61.67,155.37 L62.38,154.80 L63.07,154.24 L63.79,153.71 L64.54,153.22 L65.31,152.74 L66.07,152.26 L66.80,151.76 L67.47,151.22 L68.06,150.62 L68.60,149.96 L69.11,149.24 L69.60,148.49 L70.06,147.71 L70.52,146.94 L70.99,146.18 L71.46,145.43 L71.94,144.68 L72.41,143.93 L72.87,143.18 L73.33,142.42 L73.78,141.66 L74.21,140.89 L74.64,140.12 L75.04,139.34 L75.43,138.54 L75.80,137.72 L76.15,136.90 L76.49,136.07 L76.83,135.23 L77.16,134.39 L77.49,133.54 L77.82,132.70 L78.15,131.87 L78.49,131.04 L78.84,130.23 L79.21,129.43 L79.59,128.64 L79.99,127.87 L80.41,127.13 L80.86,126.41 L81.34,125.71 L81.89,125.06 L82.51,124.44 L83.17,123.85 L83.86,123.26 L84.55,122.67 L85.21,122.06 L85.82,121.43 L86.37,120.75 L86.87,120.03 L87.35,119.29 L87.81,118.52 L88.27,117.76 L88.74,117.01 L89.24,116.28 L89.77,115.58 L90.31,114.87 L90.86,114.17 L91.42,113.48 L92.00,112.80 L92.59,112.14 L93.19,111.49 L93.81,110.87 L94.44,110.28 L95.10,109.70 L95.78,109.14 L96.47,108.59 L97.18,108.05 L97.91,107.53 L98.64,107.02 L99.38,106.53 L100.13,106.06 L100.87,105.59 L101.63,105.15 L102.40,104.71 L103.18,104.29 L103.96,103.88 L104.76,103.48 L105.56,103.10 L106.36,102.73 L107.17,102.37 L107.98,102.03 L108.80,101.71 L109.62,101.39 L110.46,101.09 L111.29,100.79 L112.13,100.50 L112.96,100.22 L113.80,99.93 L114.64,99.65 L115.47,99.36 L116.31,99.08 L117.15,98.80 L117.99,98.52 L118.83,98.25 L119.68,97.98 L120.52,97.72 L121.37,97.46 L122.22,97.22 L123.07,96.99 L123.92,96.77 L124.78,96.56 L125.64,96.36 L126.50,96.16 L127.36,95.98 L128.23,95.80 L129.10,95.62 L129.97,95.46 L130.84,95.30 L131.71,95.16 L132.58,95.02 L133.45,94.89 L134.33,94.76 L135.20,94.63 L136.08,94.51 L136.95,94.40 L137.83,94.29 L138.71,94.18 L139.59,94.08 L140.47,93.98 L141.35,93.89 L142.22,93.81 L143.10,93.73 L143.98,93.66 L144.87,93.59 L145.75,93.53 L146.63,93.46 L147.51,93.41 L148.39,93.36 L149.28,93.32 L150.16,93.30 L151.04,93.28 L151.92,93.26 L152.81,93.25 L153.69,93.23 L154.57,93.22 L155.46,93.21 L156.34,93.20 L157.22,93.19 L158.11,93.19 L158.99,93.18 L159.88,93.17 L160.76,93.16 L161.64,93.15 L162.53,93.14 L163.41,93.13 L164.29,93.11 L165.18,93.10 L166.06,93.07 L166.94,93.05 L167.83,93.01 L168.71,92.98 L169.59,92.94 L170.47,92.89 L171.36,92.85 L172.24,92.80 L173.12,92.76 L174.01,92.72 L174.89,92.67 L175.77,92.63 L176.65,92.60 L177.54,92.57 L178.42,92.54 L179.30,92.52 L180.19,92.51 L181.07,92.50 L181.95,92.50 L182.84,92.50 L183.72,92.50 L184.60,92.51 L185.49,92.51 L186.37,92.51 L187.25,92.52 L188.14,92.52 L189.02,92.53 L189.90,92.53 L190.79,92.54 L191.67,92.54 L192.55,92.55 L193.44,92.56 L194.32,92.56 L195.20,92.57 L196.09,92.58 L196.97,92.59 L197.85,92.60 L198.74,92.61 L199.62,92.61 L200.50,92.62 L201.39,92.63 L202.27,92.64 L203.15,92.65 L204.04,92.66 L204.92,92.67 L205.81,92.68 L206.69,92.69 L207.57,92.70 L208.46,92.70 L209.34,92.71 L210.22,92.72 L211.11,92.73 L211.99,92.74 L212.87,92.74 L213.76,92.75 L214.64,92.76 L215.52,92.76 L216.41,92.77 L217.29,92.78 L218.18,92.78 L219.06,92.78 L219.94,92.79 L220.83,92.79 L221.71,92.80 L222.59,92.80 L223.48,92.80 L224.36,92.80 L225.24,92.80 L226.13,92.80 L227.01,92.80 L227.89,92.80 L228.78,92.80 L229.66,92.80 L230.55,92.80 L231.43,92.80 L232.31,92.80 L233.20,92.80 L234.08,92.80 L234.96,92.80 L235.85,92.80 L236.73,92.80 L237.61,92.78 L238.50,92.76 L239.38,92.74 L240.26,92.70 L241.14,92.67 L242.03,92.62 L242.91,92.58 L243.79,92.53 L244.67,92.48 L245.56,92.42 L246.44,92.37 L247.32,92.32 L248.20,92.27 L249.09,92.23 L249.97,92.19 L250.85,92.15 L251.73,92.12 L252.62,92.09 L253.50,92.07 L254.38,92.05 L255.27,92.03 L256.15,92.00 L257.03,91.98 L257.92,91.96 L258.80,91.94 L259.68,91.92 L260.57,91.90 L261.45,91.88 L262.33,91.86 L263.22,91.85 L264.10,91.83 L264.98,91.82 L265.87,91.81 L266.75,91.81 L267.64,91.80 L268.52,91.80 L269.40,91.80 L270.29,91.80 L271.17,91.80 L272.05,91.80 L272.94,91.80 L273.82,91.80 L274.70,91.80 L275.59,91.80 L276.47,91.80 L277.36,91.80 L278.24,91.80 L279.12,91.80 L280.00,91.80 L280.89,91.81 L281.77,91.85 L282.65,91.90 L283.53,91.96 L284.41,92.04 L285.30,92.12 L286.18,92.20 L287.06,92.28 L287.94,92.36 L288.82,92.42 L289.70,92.47 L290.59,92.49 L291.47,92.50 L292.35,92.50 L293.23,92.50 L294.12,92.49 L295.00,92.49 L295.88,92.48 L296.76,92.47 L297.65,92.46 L298.53,92.45 L299.41,92.44 L300.30,92.43 L301.18,92.42 L302.07,92.40 L302.95,92.39 L303.83,92.38 L304.72,92.36 L305.60,92.35 L306.48,92.34 L307.37,92.32 L308.25,92.31 L309.13,92.30 L310.02,92.28 L310.90,92.27 L311.79,92.26 L312.67,92.25 L313.55,92.24 L314.44,92.23 L315.32,92.22 L316.20,92.21 L317.09,92.21 L317.97,92.20 L318.86,92.20 L319.74,92.20 L320.62,92.20 L321.51,92.20 L322.39,92.21 L323.27,92.21 L324.16,92.22 L325.04,92.23 L325.92,92.24 L326.81,92.25 L327.69,92.26 L328.57,92.28 L329.46,92.29 L330.34,92.31 L331.22,92.32 L332.11,92.34 L332.99,92.36 L333.87,92.38 L334.76,92.39 L335.64,92.42 L336.52,92.46 L337.41,92.50 L338.29,92.56 L339.17,92.62 L340.05,92.68 L340.93,92.74 L341.82,92.80 L342.70,92.84 L343.58,92.88 L344.46,92.90 L345.35,92.90 L346.23,92.89 L347.11,92.87 L348.00,92.85 L348.88,92.82 L349.76,92.78 L350.65,92.74 L351.53,92.69 L352.41,92.64 L353.29,92.59 L354.18,92.55 L355.06,92.50 L355.94,92.45 L356.82,92.39 L357.70,92.33 L358.58,92.26 L359.46,92.19 L360.34,92.12 L361.22,92.04 L362.10,91.96 L362.98,91.87 L363.86,91.78 L364.74,91.69 L365.62,91.60 L366.50,91.50" stroke="#800080" stroke-width="1.9"/>
<path d="M53.5,102.22 H63.6" stroke="#808080" stroke-width="2.0"/>
<path d="M65.8,102.22 H369.2" stroke="#808080" stroke-width="2.0" stroke-dasharray="6.15,2.142"/>
<path d="M53.5,88.33 H63.6" stroke="#ff00ff" stroke-width="2.0"/>
<path d="M65.8,88.33 H369.2" stroke="#ff00ff" stroke-width="2.0" stroke-dasharray="6.15,2.142"/>
</g>
<rect x="52.4" y="8.4" width="316.0" height="194.6" fill="none" stroke="#555" stroke-width="0.6"/>
<path d="M52.40,203.0 v-2.0 M52.40,8.4 v2.0 M62.93,203.0 v-2.0 M62.93,8.4 v2.0 M73.47,203.0 v-3.6 M73.47,8.4 v3.6 M84.00,203.0 v-2.0 M84.00,8.4 v2.0 M94.53,203.0 v-2.0 M94.53,8.4 v2.0 M105.07,203.0 v-2.0 M105.07,8.4 v2.0 M115.60,203.0 v-3.6 M115.60,8.4 v3.6 M126.13,203.0 v-2.0 M126.13,8.4 v2.0 M136.67,203.0 v-2.0 M136.67,8.4 v2.0 M147.20,203.0 v-2.0 M147.20,8.4 v2.0 M157.73,203.0 v-3.6 M157.73,8.4 v3.6 M168.27,203.0 v-2.0 M168.27,8.4 v2.0 M178.80,203.0 v-2.0 M178.80,8.4 v2.0 M189.33,203.0 v-2.0 M189.33,8.4 v2.0 M199.87,203.0 v-3.6 M199.87,8.4 v3.6 M210.40,203.0 v-2.0 M210.40,8.4 v2.0 M220.93,203.0 v-2.0 M220.93,8.4 v2.0 M231.47,203.0 v-2.0 M231.47,8.4 v2.0 M242.00,203.0 v-3.6 M242.00,8.4 v3.6 M252.53,203.0 v-2.0 M252.53,8.4 v2.0 M263.07,203.0 v-2.0 M263.07,8.4 v2.0 M273.60,203.0 v-2.0 M273.60,8.4 v2.0 M284.13,203.0 v-3.6 M284.13,8.4 v3.6 M294.67,203.0 v-2.0 M294.67,8.4 v2.0 M305.20,203.0 v-2.0 M305.20,8.4 v2.0 M315.73,203.0 v-2.0 M315.73,8.4 v2.0 M326.27,203.0 v-3.6 M326.27,8.4 v3.6 M336.80,203.0 v-2.0 M336.80,8.4 v2.0 M347.33,203.0 v-2.0 M347.33,8.4 v2.0 M357.87,203.0 v-2.0 M357.87,8.4 v2.0 M368.40,203.0 v-3.6 M368.40,8.4 v3.6 M52.4,203.00 h3.6 M368.4,203.00 h-3.6 M52.4,196.05 h2.0 M368.4,196.05 h-2.0 M52.4,189.10 h2.0 M368.4,189.10 h-2.0 M52.4,182.15 h2.0 M368.4,182.15 h-2.0 M52.4,175.20 h3.6 M368.4,175.20 h-3.6 M52.4,168.25 h2.0 M368.4,168.25 h-2.0 M52.4,161.30 h2.0 M368.4,161.30 h-2.0 M52.4,154.35 h2.0 M368.4,154.35 h-2.0 M52.4,147.40 h3.6 M368.4,147.40 h-3.6 M52.4,140.45 h2.0 M368.4,140.45 h-2.0 M52.4,133.50 h2.0 M368.4,133.50 h-2.0 M52.4,126.55 h2.0 M368.4,126.55 h-2.0 M52.4,119.60 h3.6 M368.4,119.60 h-3.6 M52.4,112.65 h2.0 M368.4,112.65 h-2.0 M52.4,105.70 h2.0 M368.4,105.70 h-2.0 M52.4,98.75 h2.0 M368.4,98.75 h-2.0 M52.4,91.80 h3.6 M368.4,91.80 h-3.6 M52.4,84.85 h2.0 M368.4,84.85 h-2.0 M52.4,77.90 h2.0 M368.4,77.90 h-2.0 M52.4,70.95 h2.0 M368.4,70.95 h-2.0 M52.4,64.00 h3.6 M368.4,64.00 h-3.6 M52.4,57.05 h2.0 M368.4,57.05 h-2.0 M52.4,50.10 h2.0 M368.4,50.10 h-2.0 M52.4,43.15 h2.0 M368.4,43.15 h-2.0 M52.4,36.20 h3.6 M368.4,36.20 h-3.6 M52.4,29.25 h2.0 M368.4,29.25 h-2.0 M52.4,22.30 h2.0 M368.4,22.30 h-2.0 M52.4,15.35 h2.0 M368.4,15.35 h-2.0 M52.4,8.40 h3.6 M368.4,8.40 h-3.6" stroke="#555" stroke-width="0.6" fill="none"/>
<g font-family="Liberation Serif, serif" font-weight="bold" fill="#000">
<text x="48.6" y="207.00" font-size="16" letter-spacing="-0.4" text-anchor="end">0.30</text>
<text x="48.6" y="179.20" font-size="16" letter-spacing="-0.4" text-anchor="end">0.32</text>
<text x="48.6" y="151.40" font-size="16" letter-spacing="-0.4" text-anchor="end">0.34</text>
<text x="48.6" y="123.60" font-size="16" letter-spacing="-0.4" text-anchor="end">0.36</text>
<text x="48.6" y="95.80" font-size="16" letter-spacing="-0.4" text-anchor="end">0.38</text>
<text x="48.6" y="68.00" font-size="16" letter-spacing="-0.4" text-anchor="end">0.40</text>
<text x="48.6" y="40.20" font-size="16" letter-spacing="-0.4" text-anchor="end">0.42</text>
<text x="48.6" y="12.40" font-size="16" letter-spacing="-0.4" text-anchor="end">0.44</text>
<rect x="60.77" y="212.95" width="9.4" height="1.5" fill="#000"/>
<text x="87.47" y="217.6" font-size="16" letter-spacing="-0.4" text-anchor="end">14</text>
<rect x="102.90" y="212.95" width="9.4" height="1.5" fill="#000"/>
<text x="129.60" y="217.6" font-size="16" letter-spacing="-0.4" text-anchor="end">12</text>
<rect x="145.03" y="212.95" width="9.4" height="1.5" fill="#000"/>
<text x="171.73" y="217.6" font-size="16" letter-spacing="-0.4" text-anchor="end">10</text>
<rect x="190.87" y="212.95" width="9.3" height="1.5" fill="#000"/>
<text x="209.87" y="217.6" font-size="16" letter-spacing="-0.4" text-anchor="end">8</text>
<rect x="233.00" y="212.95" width="9.3" height="1.5" fill="#000"/>
<text x="252.00" y="217.6" font-size="16" letter-spacing="-0.4" text-anchor="end">6</text>
<rect x="275.13" y="212.95" width="9.3" height="1.5" fill="#000"/>
<text x="294.13" y="217.6" font-size="16" letter-spacing="-0.4" text-anchor="end">4</text>
<rect x="317.27" y="212.95" width="9.3" height="1.5" fill="#000"/>
<text x="336.27" y="217.6" font-size="16" letter-spacing="-0.4" text-anchor="end">2</text>
<text x="368.50" y="217.6" font-size="16" text-anchor="middle">0</text>
<text transform="translate(11.5,105.6) rotate(-90)" font-size="15.3" text-anchor="middle">Ratio</text>
<text x="188.80" y="241.0" font-size="15.5" letter-spacing="-0.15">log</text>
<text x="207.26" y="241.0" font-size="14.5">(</text>
<text x="213.50" y="241.0" font-size="16" font-style="italic" stroke="#000" stroke-width="0.3">x</text>
<text x="221.88" y="244.0" font-size="11" font-style="italic" stroke="#000" stroke-width="0.25">L</text>
<text x="228.03" y="241.0" font-size="14.5">)</text>
<text x="114.6" y="47" font-size="15.2" word-spacing="1.2" fill="#808080">Pythia8: <tspan dx="-0.6">1 TeV </tspan><tspan dx="0.2" letter-spacing="0.1">Jets</tspan></text>
<path d="M249.4,24.6 H289.1" stroke="#808080" stroke-width="2.1" stroke-dasharray="6.25,2.1" fill="none"/>
<path d="M249.4,58.8 H289.1" stroke="#ff00ff" stroke-width="2.1" stroke-dasharray="6.25,2.1" fill="none"/>
<text x="297.95" y="29.30" font-size="15.8" font-style="italic" stroke="#000" stroke-width="0.3">T</text>
<text x="308.67" y="32.30" font-size="11" font-style="italic" stroke="#000" stroke-width="0.3">d</text>
<text x="314.72" y="24.10" font-size="11">(1)</text>
<text x="327.35" y="29.30" font-size="15.8" font-style="italic" stroke="#000" stroke-width="0.3">T</text>
<text x="338.20" y="32.30" font-size="11" font-style="italic" stroke="#000" stroke-width="0.3">g</text>
<text x="344.62" y="24.10" font-size="11">(1)</text>
<text x="299.96" y="63.30" font-size="14.5">(</text>
<text x="303.95" y="63.30" font-size="15.8" font-style="italic" stroke="#000" stroke-width="0.3">T</text>
<text x="314.70" y="66.30" font-size="11" font-style="italic" stroke="#000" stroke-width="0.3">g</text>
<text x="321.02" y="58.10" font-size="11">(1)</text>
<text x="333.43" y="63.30" font-size="14.5">)</text>
<text x="338.44" y="59.10" font-size="11">2</text>
<path d="M139.1,151.0 h20.6" stroke="#0000ff" stroke-width="1.9" fill="none"/>
<rect x="170.10" y="150.15" width="37.6" height="1.5" fill="#000"/>
<text x="170.25" y="149.00" font-size="11.2" stroke="#000" stroke-width="0.25">CEEC<tspan font-size="7.8" dx="-0.3" dy="1.4">d</tspan></text>
<text x="174.41" y="162.20" font-size="11.2" stroke="#000" stroke-width="0.25">EEC<tspan font-size="7.8" dx="-0.3" dy="1.4">d</tspan></text>
<path d="M218.1,151.0 h20.6" stroke="#00ff00" stroke-width="1.9" fill="none"/>
<rect x="249.10" y="150.15" width="36.6" height="1.5" fill="#000"/>
<text x="249.25" y="149.00" font-size="11.2" stroke="#000" stroke-width="0.25">CEEC<tspan font-size="7.8" dx="-0.3" dy="1.4">s</tspan></text>
<text x="253.41" y="162.20" font-size="11.2" stroke="#000" stroke-width="0.25">EEC<tspan font-size="7.8" dx="-0.3" dy="1.4">s</tspan></text>
<path d="M292.8,151.0 h20.6" stroke="#ff8080" stroke-width="1.9" fill="none"/>
<rect x="323.80" y="150.15" width="37.0" height="1.5" fill="#000"/>
<text x="323.95" y="149.00" font-size="11.2" stroke="#000" stroke-width="0.25">CEEC<tspan font-size="7.8" dx="-0.3" dy="1.4">b</tspan></text>
<text x="328.11" y="162.20" font-size="11.2" stroke="#000" stroke-width="0.25">EEC<tspan font-size="7.8" dx="-0.3" dy="1.4">b</tspan></text>
<path d="M139.1,186.3 h20.6" stroke="#ff8000" stroke-width="1.9" fill="none"/>
<rect x="170.10" y="185.45" width="37.6" height="1.5" fill="#000"/>
<text x="170.25" y="184.30" font-size="11.2" stroke="#000" stroke-width="0.25">CEEC<tspan font-size="7.8" dx="-0.3" dy="1.4">u</tspan></text>
<text x="174.41" y="197.50" font-size="11.2" stroke="#000" stroke-width="0.25">EEC<tspan font-size="7.8" dx="-0.3" dy="1.4">u</tspan></text>
<path d="M218.1,186.3 h20.6" stroke="#000000" stroke-width="1.9" fill="none"/>
<rect x="249.10" y="185.45" width="36.6" height="1.5" fill="#000"/>
<text x="249.25" y="184.30" font-size="11.2" stroke="#000" stroke-width="0.25">CEEC<tspan font-size="7.8" dx="-0.3" dy="1.4">c</tspan></text>
<text x="253.41" y="197.50" font-size="11.2" stroke="#000" stroke-width="0.25">EEC<tspan font-size="7.8" dx="-0.3" dy="1.4">c</tspan></text>
<path d="M292.8,186.3 h20.6" stroke="#800080" stroke-width="1.9" fill="none"/>
<rect x="323.80" y="185.45" width="37.0" height="1.5" fill="#000"/>
<text x="323.95" y="184.30" font-size="11.2" stroke="#000" stroke-width="0.25">CEEC<tspan font-size="7.8" dx="-0.3" dy="1.4">g</tspan></text>
<text x="328.11" y="197.50" font-size="11.2" stroke="#000" stroke-width="0.25">EEC<tspan font-size="7.8" dx="-0.3" dy="1.4">g</tspan></text>
</g>
</svg>
</body></html>
